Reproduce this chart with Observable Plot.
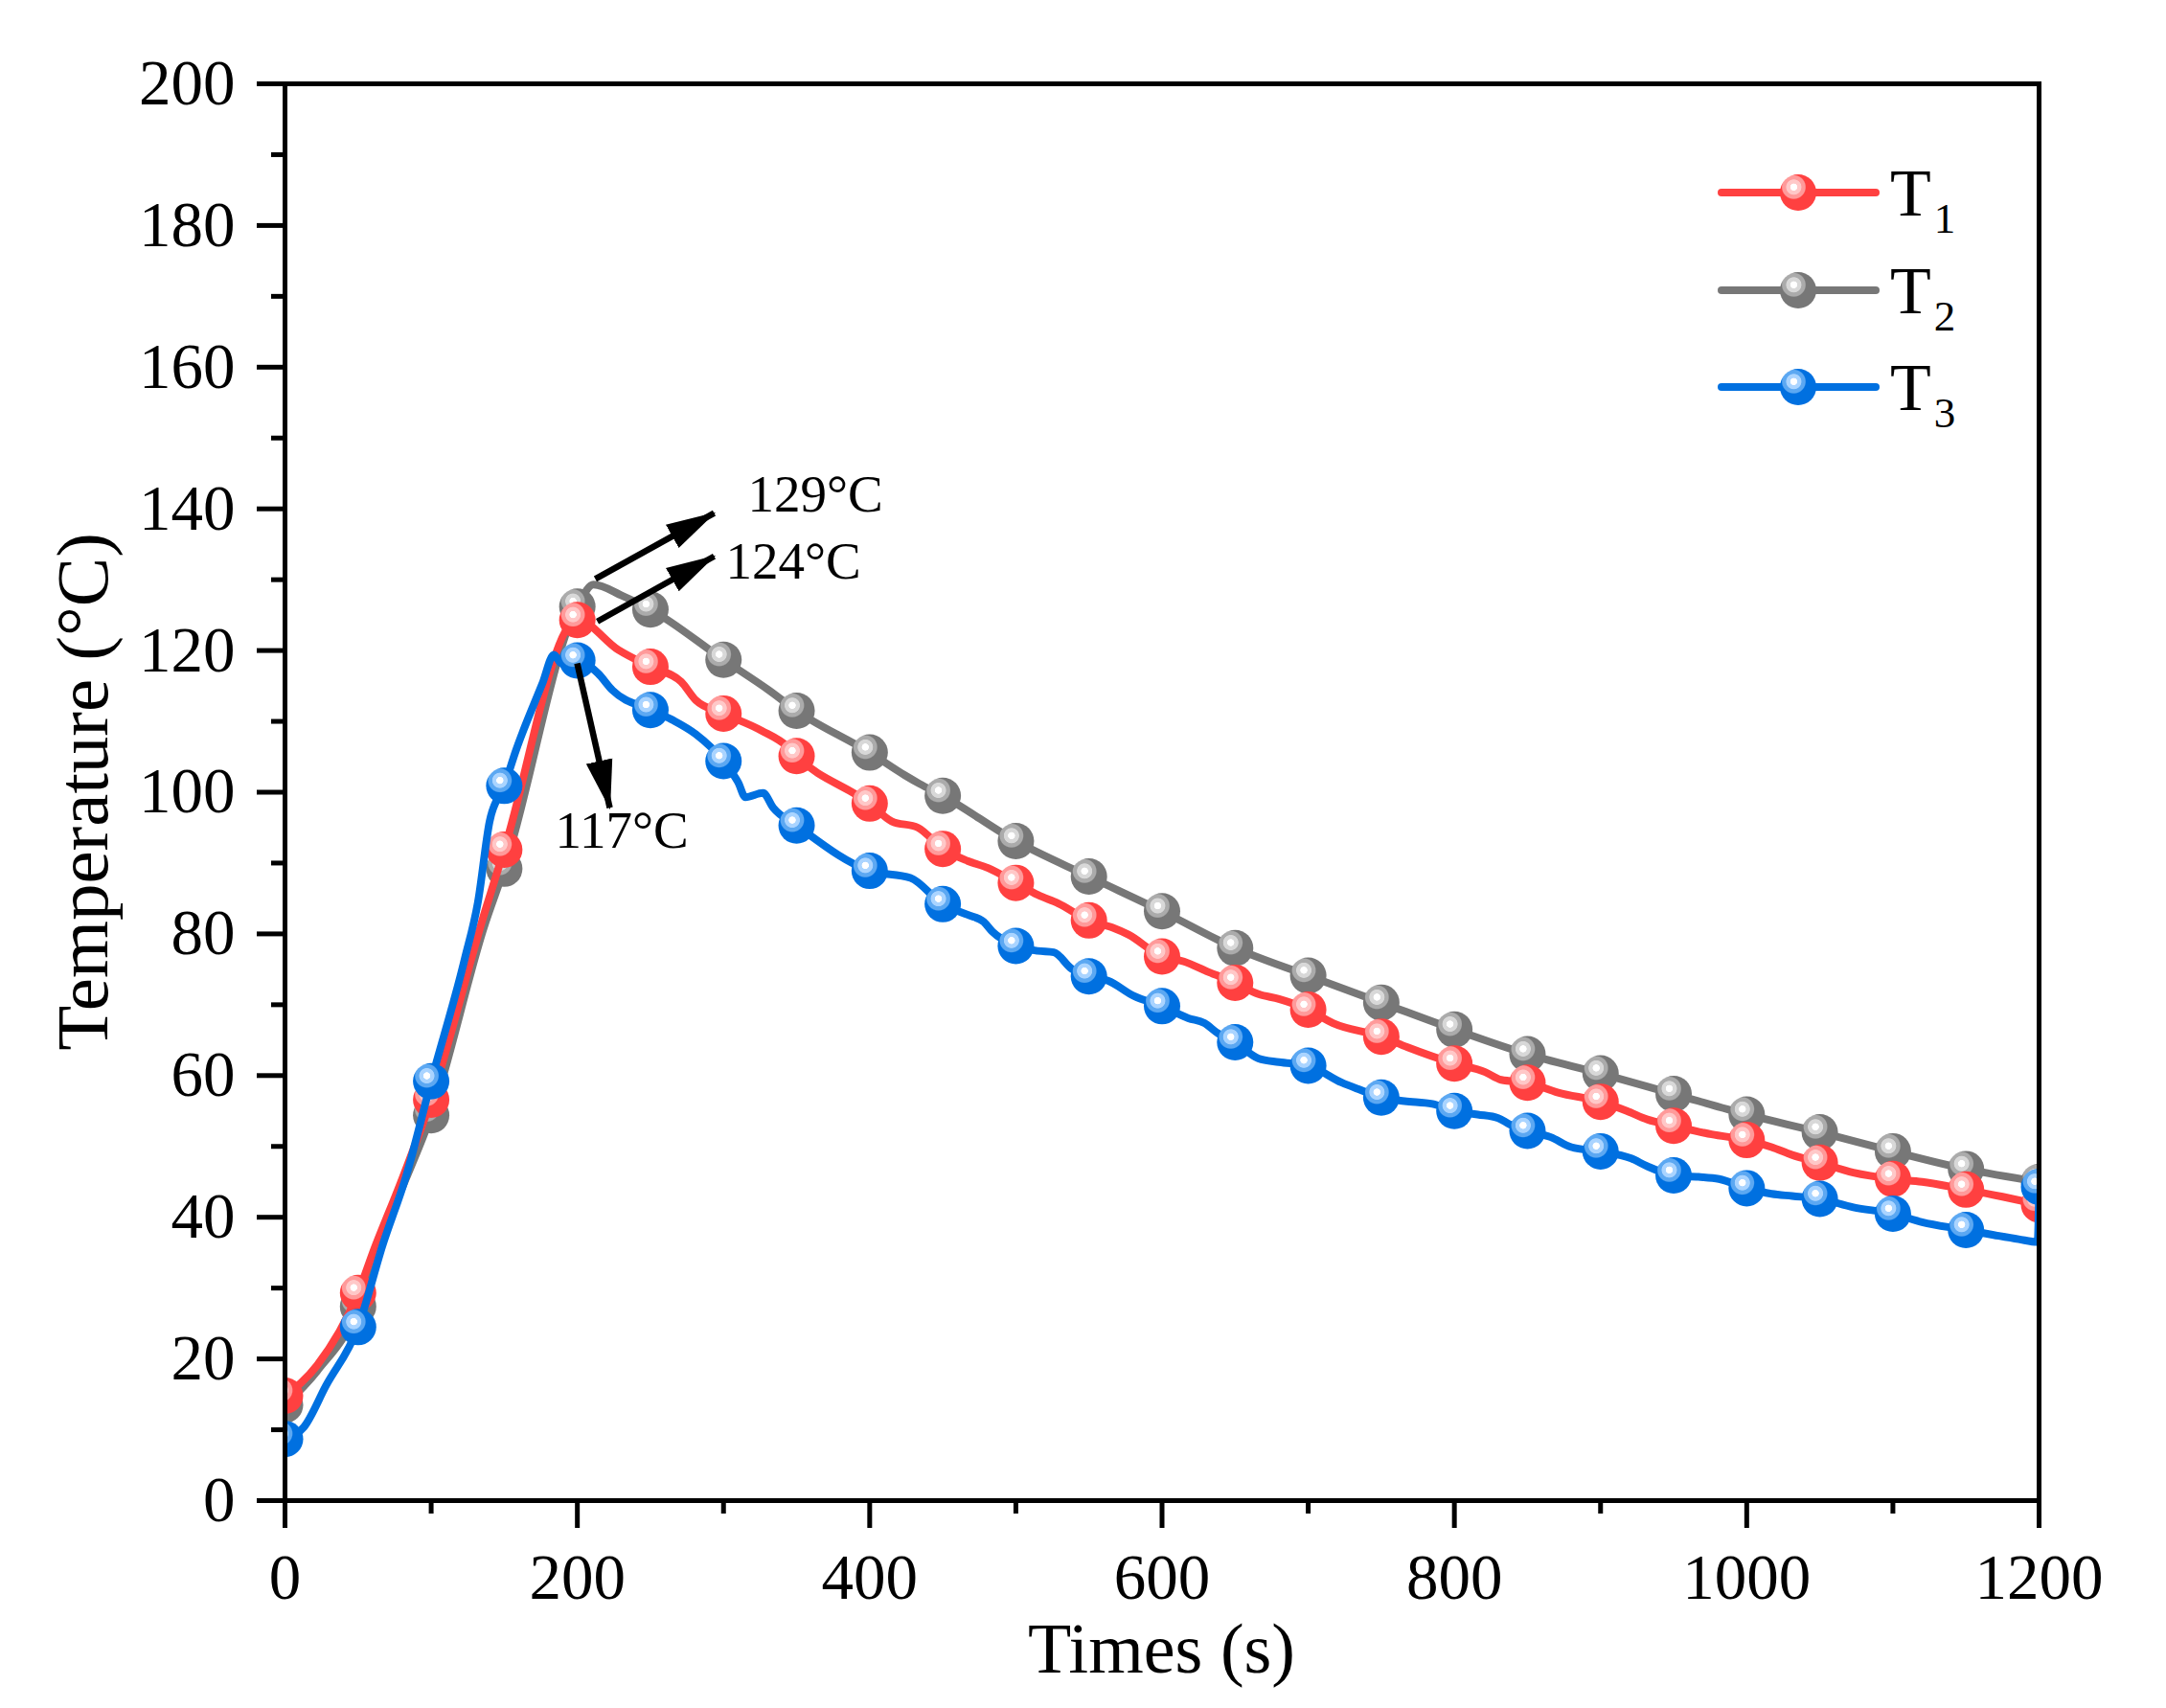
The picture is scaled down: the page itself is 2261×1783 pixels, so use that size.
<!DOCTYPE html>
<html>
<head>
<meta charset="utf-8">
<script src="https://cdn.jsdelivr.net/npm/d3@7"></script>
<script src="https://cdn.jsdelivr.net/npm/@observablehq/plot@0.6"></script>
<style>
  html, body { margin: 0; padding: 0; background: #fff; }
  #chart { width: 2261px; height: 1783px; }
</style>
</head>
<body>
<div id="chart"></div>
<script>
// ---------------- data ----------------
const seriesNames = ["T1", "T2", "T3"];
const seriesSubs = ["1", "2", "3"];
const seriesColors = ["#ff4040", "#777777", "#0070e0"];
const seriesLight1 = ["#ffc8c8", "#d8d8d8", "#aad4ff"];
const seriesLight2 = ["#ff9a9a", "#ababab", "#5ca8f2"];

const t1Time = [0,22,50,61,79,100,137,150,200,228,250,271,281,300,326,344,350,400,415,433,450,467,481,500,515,529,550,566,577,600,615,632,650,666,680,700,717,750,768,800,821,832,850,871,900,918,932,950,976,1000,1017,1031,1050,1073,1100,1120,1150,1175,1200];
const t1Temp = [14.8,19.1,29.3,35.5,44.8,56.6,83.3,91.9,124.3,120.1,117.7,115.6,113.0,111.1,108.7,106.4,105.1,98.4,95.9,95.0,92.0,90.3,89.3,87.2,85.5,84.3,81.9,80.9,79.9,76.8,76.1,74.6,73.1,71.5,70.8,69.3,67.4,65.5,64.0,61.7,60.5,59.4,59.0,57.6,56.3,55.0,53.8,52.9,51.7,50.9,49.9,48.8,47.7,46.3,45.4,45.0,43.9,42.9,41.8];

const t2Time = [0,22,50,61,79,100,137,150,200,211,231,250,300,331,350,400,424,434,450,500,550,600,650,700,750,800,850,900,950,1000,1050,1100,1150,1200];
const t2Temp = [13.5,18.3,27.4,34.5,43.6,54.4,81.5,89.2,126.2,129.3,127.7,125.8,118.7,114.4,111.5,105.6,102.4,101.2,99.5,93.1,88.1,83.2,78.0,74.1,70.3,66.5,63.0,60.3,57.4,54.5,52.0,49.3,46.8,45.0];

const t3Time = [0,13,28,50,67,83,100,123,132,140,150,158,176,184,189,200,214,224,250,266,281,300,310,315,327,334,350,400,428,450,467,478,484,500,515,526,538,550,563,581,600,618,629,638,650,666,680,700,723,734,750,766,785,800,816,830,838,850,866,880,900,921,932,950,967,981,1000,1017,1031,1050,1073,1100,1120,1150,1169,1186,1199,1200];
const t3Temp = [8.7,10.4,16.2,24.5,36.2,45.9,59.2,76.5,84.5,95.9,100.9,105.9,115.3,119.4,118.2,118.6,116.8,114.4,111.6,110.1,108.2,104.4,101.4,99.3,99.9,97.8,95.3,88.9,87.9,84.2,82.7,81.7,80.3,78.3,77.6,77.4,75.1,74.0,73.4,71.2,69.8,68.1,67.4,66.0,64.7,62.4,61.9,61.4,59.0,58.1,56.9,56.4,56.0,55.0,54.5,54.0,53.1,52.2,51.3,49.9,49.3,48.3,47.2,45.9,45.7,45.4,44.1,43.3,43.0,42.6,41.4,40.5,39.3,38.2,37.5,36.9,36.5,44.3];

const xTicks = [0, 200, 400, 600, 800, 1000, 1200];
const xMinorTicks = [100, 300, 500, 700, 900, 1100];
const yTicks = [0, 20, 40, 60, 80, 100, 120, 140, 160, 180, 200];
const yMinorTicks = [10, 30, 50, 70, 90, 110, 130, 150, 170, 190];

const annotLabels = ["129°C", "124°C", "117°C"];
const annotTextX = [316.6, 301.5, 184.8];
const annotTextY = [139.6, 130.1, 92.1];
const arrowX1 = [212.3, 213.7, 199.9];
const arrowY1 = [130.1, 124.1, 118.2];
const arrowX2 = [293.6, 293.6, 222.2];
const arrowY2 = [139.4, 133.3, 97.8];

const xTitle = "Times (s)";
const yTitle = "Temperature (°C)";

// ---------------- build ----------------
const times = [t1Time, t2Time, t3Time];
const temps = [t1Temp, t2Temp, t3Temp];
const seriesRows = seriesNames.map((name, k) =>
  times[k].map((t, i) => ({series: name, t, v: temps[k][i]})));
const annotations = annotLabels.map((label, i) => ({label, x: annotTextX[i], y: annotTextY[i]}));
const arrows = arrowX1.map((x1, i) => ({x1, y1: arrowY1[i], x2: arrowX2[i], y2: arrowY2[i]}));

const FONT = "'Liberation Serif', 'Times New Roman', serif";
const W = 2261, H = 1783;
const mL = 297, mR = 133, mT = 87, mB = 217;

const drawOrder = [1, 0, 2]; // gray under, red, blue on top
const seriesMarks = [];
for (const k of drawOrder) {
  seriesMarks.push(Plot.line(seriesRows[k], {
    x: "t", y: "v", stroke: seriesColors[k], strokeWidth: 8,
    curve: "monotone-x", clip: true
  }));
  seriesMarks.push(Plot.dot(seriesRows[k].filter(d => d.t % 50 === 0), {
    x: "t", y: "v", r: 19, fill: `url(#grad-${seriesNames[k]})`, stroke: "none", clip: true
  }));
}

const chart = Plot.plot({
  width: W, height: H,
  marginLeft: mL, marginRight: mR, marginTop: mT, marginBottom: mB,
  style: {fontFamily: FONT, color: "black", background: "white", overflow: "visible"},
  x: {domain: [0, 1200]},
  y: {domain: [0, 200]},
  marks: [
    Plot.axisX({ticks: xMinorTicks, tickSize: 14, strokeWidth: 5, tickFormat: () => "", label: null}),
    Plot.axisY({ticks: yMinorTicks, tickSize: 14, strokeWidth: 5, tickFormat: () => "", label: null}),
    Plot.axisX({ticks: xTicks, tickSize: 29, tickPadding: 26, strokeWidth: 5, fontSize: 67, tickFormat: d => String(d), label: null}),
    Plot.axisY({ticks: yTicks, tickSize: 29, tickPadding: 23, strokeWidth: 5, fontSize: 67, tickFormat: d => String(d), label: null}),
    ...seriesMarks,
    Plot.link(arrows, {x1: "x1", y1: "y1", x2: "x2", y2: "y2", stroke: "black", strokeWidth: 6.5, strokeLinecap: "butt", className: "ann-arrow"}),
    Plot.text(annotations, {x: "x", y: "y", text: "label", textAnchor: "start", lineAnchor: "bottom", fontSize: 55, fill: "black"}),
    Plot.frame({stroke: "black", strokeWidth: 5})
  ]
});

const svg = d3.select(chart);
const defs = svg.insert("defs", ":first-child");

seriesNames.forEach((name, k) => {
  const g = defs.append("radialGradient").attr("id", `grad-${name}`)
    .attr("cx", 0.38).attr("cy", 0.35).attr("fx", 0.38).attr("fy", 0.35).attr("r", 0.5);
  const stops = [
    [0, "#ffffff"], [0.18, "#ffffff"],
    [0.21, seriesLight1[k]], [0.40, seriesLight1[k]],
    [0.44, seriesLight2[k]], [0.62, seriesLight2[k]],
    [0.68, seriesColors[k]], [1, seriesColors[k]]
  ];
  stops.forEach(([o, c]) => g.append("stop").attr("offset", o).attr("stop-color", c));
});

defs.append("marker").attr("id", "arrowhead")
  .attr("viewBox", "0 -16 52 32").attr("refX", 50).attr("refY", 0)
  .attr("markerWidth", 52).attr("markerHeight", 32)
  .attr("markerUnits", "userSpaceOnUse").attr("orient", "auto")
  .append("path").attr("d", "M0,-14L52,0L0,14Z").attr("fill", "black");

svg.selectAll("g.ann-arrow path").attr("marker-end", "url(#arrowhead)");

// axis titles
svg.append("text")
  .attr("x", mL + (W - mL - mR) / 2).attr("y", 1746)
  .attr("text-anchor", "middle").attr("font-family", FONT).attr("font-size", 74)
  .attr("fill", "black").text(xTitle);

svg.append("text")
  .attr("transform", `translate(112, ${mT + (H - mT - mB) / 2}) rotate(-90)`)
  .attr("text-anchor", "middle").attr("font-family", FONT).attr("font-size", 77)
  .attr("fill", "black").text(yTitle);

// legend
const legendY = [201, 303, 404];
const lg = svg.append("g").attr("class", "legend");
seriesNames.forEach((name, k) => {
  const y = legendY[k];
  lg.append("line").attr("x1", 1797).attr("x2", 1958).attr("y1", y).attr("y2", y)
    .attr("stroke", seriesColors[k]).attr("stroke-width", 8).attr("stroke-linecap", "round");
  lg.append("circle").attr("cx", 1877).attr("cy", y).attr("r", 19)
    .attr("fill", `url(#grad-${name})`);
  const t = lg.append("text").attr("x", 1973).attr("y", y + 24)
    .attr("text-anchor", "start")
    .attr("font-family", FONT).attr("font-size", 70).attr("fill", "black");
  t.append("tspan").text("T");
  t.append("tspan").attr("dx", 3).attr("dy", 18).attr("font-size", 45).text(seriesSubs[k]);
});

document.getElementById("chart").appendChild(chart);
</script>
</body>
</html>
